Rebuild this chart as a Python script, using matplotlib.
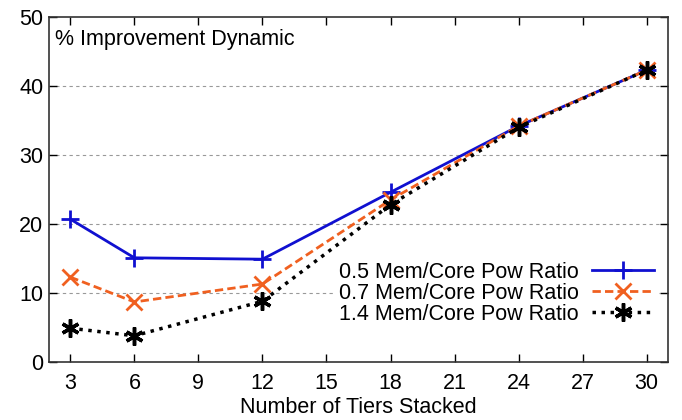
import matplotlib
matplotlib.use('Agg')
import matplotlib.pyplot as plt

plt.rcParams['font.family'] = ['Liberation Sans', 'DejaVu Sans']

tiers = [3, 6, 12, 18, 24, 30]
ratio_05 = [20.7, 15.1, 14.9, 24.6, 34.2, 42.3]
ratio_07 = [12.3, 8.7, 11.3, 23.5, 34.2, 42.3]
ratio_14 = [4.9, 3.8, 8.8, 22.8, 34.0, 42.3]

fs = 15.5

fig = plt.figure(figsize=(6.82, 4.2), dpi=100)
ax = fig.add_axes([49 / 682, 58 / 420, 619 / 682, 345 / 420])

ax.plot(tiers, ratio_05, color='#1010d0', lw=2, marker='+', ms=13, mew=2,
        label='0.5 Mem/Core Pow Ratio')
ax.plot(tiers, ratio_07, color='#f06020', lw=2, ls=(0, (3, 1.5)), marker='x',
        ms=12, mew=2, label='0.7 Mem/Core Pow Ratio')
ax.plot(tiers, ratio_14, color='black', lw=2.5, ls=(0, (1, 1.6)), marker=(6, 2, 0),
        ms=13, mew=2.5, label='1.4 Mem/Core Pow Ratio')

ax.set_xlim(2, 31)
ax.set_ylim(0, 50)
ax.set_xticks(range(3, 31, 3))
ax.set_yticks(range(0, 51, 10))
ax.tick_params(direction='in', top=True, right=True, length=6, width=1,
               labelsize=fs, pad=8)
ax.tick_params(axis='y', pad=4)
for s in ax.spines.values():
    s.set_linewidth(1.2)
    s.set_color('#333333')

for y in [10, 20, 30, 40]:
    ax.axhline(y, color='#999999', lw=0.8, ls=(0, (3, 3)), zorder=0)

ax.set_xlabel('Number of Tiers Stacked', fontsize=fs, labelpad=2)
ax.text(0.01, 0.965, '% Improvement Dynamic', transform=ax.transAxes,
        fontsize=fs, va='top', ha='left')

leg = ax.legend(loc='lower right', bbox_to_anchor=(0.985, 0.095), frameon=True,
                markerfirst=False, fontsize=fs, handlelength=2.9,
                labelspacing=0.0, borderpad=0.2, handletextpad=0.6,
                borderaxespad=0)
leg.get_frame().set_edgecolor('none')
leg.get_frame().set_facecolor('white')
leg.get_frame().set_alpha(1)
for t in leg.get_texts():
    t.set_ha('right')

fig.savefig('out.png', dpi=100)
